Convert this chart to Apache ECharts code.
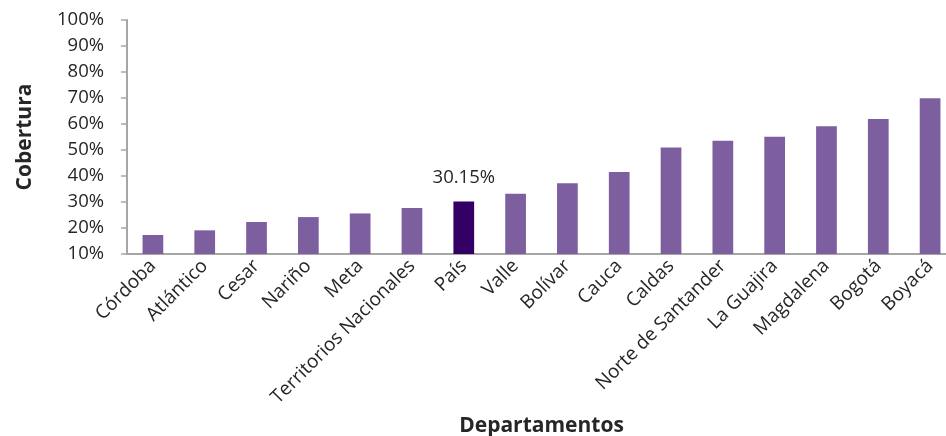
<!DOCTYPE html>
<html><head><meta charset="utf-8">
<script src="https://cdn.jsdelivr.net/npm/echarts@6/dist/echarts.min.js"></script>
<style>html,body{margin:0;padding:0;background:#fff}#c{width:946px;height:436px}</style>
</head><body><div id="c"></div>
<script>
const categories = ["Córdoba","Atlántico","Cesar","Nariño","Meta","Territorios Nacionales","País","Valle","Bolívar","Cauca","Caldas","Norte de Santander","La Guajira","Magdalena","Bogotá","Boyacá"];
const values = [17.3, 19.1, 22.3, 24.2, 25.6, 27.7, 30.15, 33.2, 37.2, 41.5, 51.0, 53.6, 55.1, 59.1, 61.9, 69.9];
const highlightCategory = "País";
const yTicks = [10,20,30,40,50,60,70,80,90,100];

const FONT = '"Open Sans", "Noto Sans", sans-serif';
const chart = echarts.init(document.getElementById('c'));
chart.setOption({
  animation: false,
  grid: {left: 127, width: 829, top: 20, height: 234, containLabel: false, outerBoundsMode: 'none'},
  xAxis: {
    type: 'category', data: categories,
    name: 'Departamentos', nameLocation: 'middle', nameGap: 162,
    nameTextStyle: {fontFamily: FONT, fontWeight: 'bold', fontSize: 21, color: '#262626'},
    axisLine: {lineStyle: {color: '#A6A6A6', width: 2}},
    axisTick: {show: false},
    axisLabel: {rotate: 45, interval: 0, fontFamily: FONT, fontSize: 19, color: '#262626', margin: 9}
  },
  yAxis: {
    type: 'value', min: yTicks[0], max: yTicks[yTicks.length-1], interval: 10,
    name: 'Cobertura', nameLocation: 'middle', nameGap: 91, nameRotate: 90,
    nameTextStyle: {fontFamily: FONT, fontWeight: 'bold', fontSize: 21, color: '#262626'},
    axisLine: {show: true, lineStyle: {color: '#A6A6A6', width: 2}},
    axisTick: {show: true, length: 6, lineStyle: {color: '#A6A6A6', width: 1.5}},
    splitLine: {show: false},
    axisLabel: {formatter: v => v + '%', fontFamily: FONT, fontSize: 18.5, color: '#262626', margin: 23}
  },
  series: [{
    type: 'bar', barWidth: '40%',
    data: categories.map((c, i) => ({
      value: values[i],
      itemStyle: {color: c === highlightCategory ? '#330066' : '#7D5FA0'},
      label: c === highlightCategory ? {show: true, position: 'top', distance: 14, formatter: v => v.value.toFixed(2) + '%', fontFamily: FONT, fontSize: 18.5, color: '#262626'} : {show: false}
    }))
  }]
});
</script></body></html>
